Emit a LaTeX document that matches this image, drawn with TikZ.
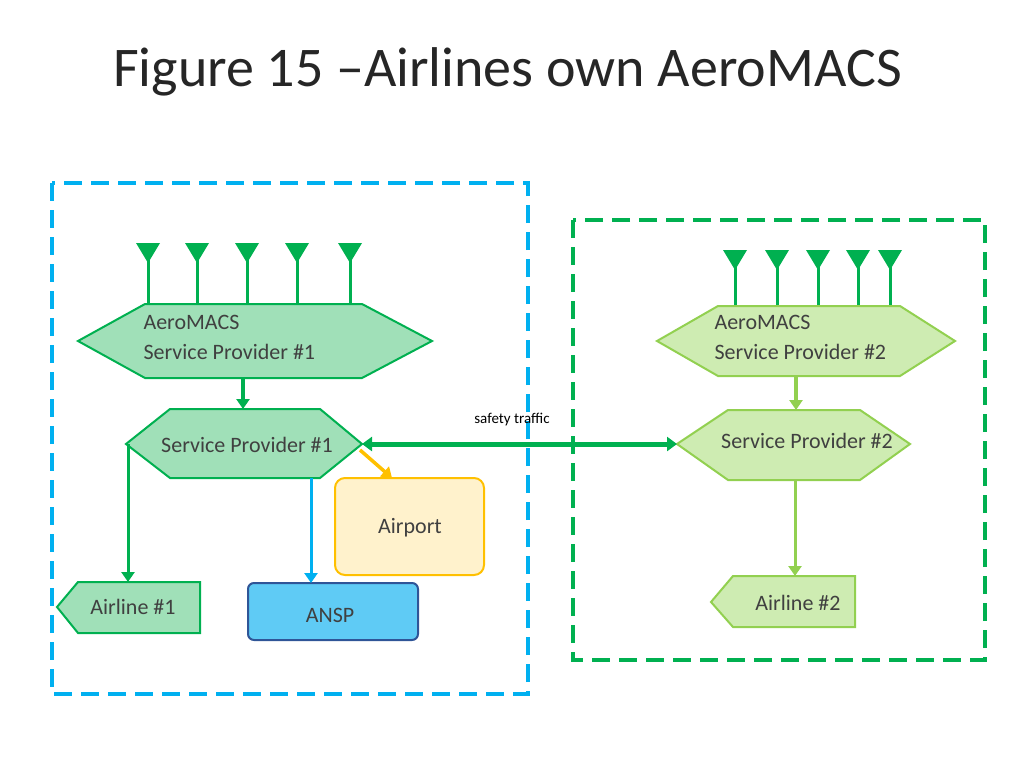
\documentclass[tikz,border=0pt]{standalone}
\usepackage{fontspec}
\setmainfont{Carlito}
\usetikzlibrary{arrows.meta}
\definecolor{dg}{RGB}{0,176,80}
\definecolor{lg}{RGB}{146,208,80}
\definecolor{cy}{RGB}{0,176,240}
\definecolor{f1}{RGB}{160,224,184}
\definecolor{f2}{RGB}{206,236,178}
\definecolor{tx}{RGB}{64,64,64}
\begin{document}
\begin{tikzpicture}[x=1pt,y=-1pt,
  lbl/.style={font=\fontsize{22}{30}\selectfont,text=tx,align=left},
  box/.style={line width=2pt},
  arr/.style={line width=3.5pt,-{Triangle[length=10pt,width=13pt]}},
  ant/.style={dg,line width=3pt}]
\useasboundingbox (0,0) rectangle (1024,768);
\node[font=\fontsize{56}{64}\selectfont,text=black!85,anchor=west,inner sep=0pt] (title) at (113,72) {Figure 15 –Airlines own AeroMACS};
% zones
\draw[cy,line width=3.5pt,dash pattern=on 18pt off 9pt] (52,183) rectangle (528,694);
\draw[dg,line width=3.5pt,dash pattern=on 18pt off 9pt] (573,220) rectangle (985,660);
% antennas
\foreach \x in {148,197,247,297,350}{\fill[dg] (\x-12,243)--(\x+12,243)--(\x,263)--cycle; \draw[ant] (\x,255)--(\x,304);}
\foreach \x in {735,777,818,858,890}{\fill[dg] (\x-12,250)--(\x+12,250)--(\x,270)--cycle; \draw[ant] (\x,260)--(\x,306);}
% hexagons
\draw[box,dg,fill=f1] (78,341)--(145,304)--(362,304)--(432,341)--(362,378)--(145,378)--cycle;
\node[lbl,anchor=west] (am1) at (140,337) {AeroMACS\\Service Provider \#1};
\draw[box,lg,fill=f2] (657,341)--(718,306)--(900,306)--(955,341)--(900,376)--(718,376)--cycle;
\node[lbl,anchor=west] (am2) at (711,337) {AeroMACS\\Service Provider \#2};
\draw[box,dg,fill=f1] (126,444)--(170,409)--(320,409)--(362,444)--(320,478)--(170,478)--cycle;
\node[lbl] (sp1) at (247,445) {Service Provider \#1};
\draw[box,lg,fill=f2] (677,444)--(728,410)--(860,410)--(910,444)--(860,480)--(728,480)--cycle;
\node[lbl] (sp2) at (807,441) {Service Provider \#2};
\draw[box,color={rgb,255:red,255;green,192;blue,0},fill={rgb,255:red,255;green,242;blue,204},rounded corners=10pt] (335,478) rectangle (484,575);
\node[lbl] (airport) at (410,528) {Airport};
\draw[box,color={rgb,255:red,47;green,85;blue,151},fill={rgb,255:red,95;green,203;blue,245},rounded corners=6pt] (248,583) rectangle (418,640);
\node[lbl] (ansp) at (330,615) {ANSP};
\draw[box,dg,fill=f1] (57,607)--(78,582)--(200,582)--(200,633)--(78,633)--cycle;
\node[lbl] (al1) at (133,607) {Airline \#1};
\draw[box,lg,fill=f2] (711,602)--(733,576)--(855,576)--(855,627)--(733,627)--cycle;
\node[lbl] (al2) at (798,603) {Airline \#2};
% connectors
\coordinate (a1) at (243,379); \coordinate (b1) at (243,409);
\draw[arr,dg] (a1)--(b1);
\coordinate (a2) at (796,377); \coordinate (b2) at (796,410);
\draw[arr,lg] (a2)--(b2);
\coordinate (c1) at (128,444); \coordinate (c2) at (128,582);
\draw[arr,dg,line width=3pt] (c1)--(c2);
\coordinate (d1) at (311,478); \coordinate (d2) at (311,583);
\draw[arr,cy,line width=3pt] (d1)--(d2);
\coordinate (e1) at (360,450); \coordinate (e2) at (392,478);
\draw[arr,color={rgb,255:red,255;green,192;blue,0}] (e1)--(e2);
\coordinate (f1) at (795,480); \coordinate (f2) at (795,576);
\draw[arr,lg,line width=3pt] (f1)--(f2);
\coordinate (g1) at (362,444); \coordinate (g2) at (677,444);
\draw[dg,line width=5pt,{Triangle[length=10pt,width=14pt]}-{Triangle[length=10pt,width=14pt]}] (g1)--(g2);
\node[font=\fontsize{15}{17}\selectfont] (st) at (512,420) {safety traffic};
\end{tikzpicture}
\end{document}
